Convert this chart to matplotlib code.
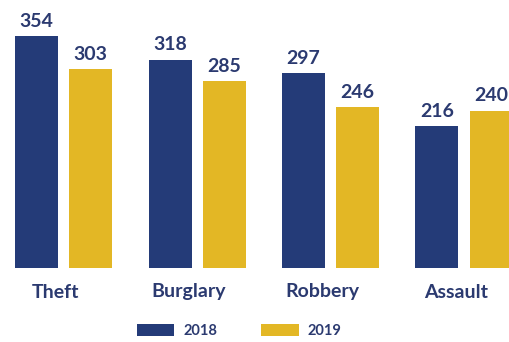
import matplotlib
matplotlib.use("Agg")
import matplotlib.pyplot as plt
import numpy as np

categories = ["Theft", "Burglary", "Robbery", "Assault"]
series_names = ["2018", "2019"]
values_2018 = [354, 318, 297, 216]
values_2019 = [303, 285, 246, 240]

navy = "#243B78"
gold = "#E3B725"
text_color = "#2B3A70"

plt.rcParams["font.family"] = ["Lato", "DejaVu Sans"]

W, H = 510, 342
fig = plt.figure(figsize=(W / 100, H / 100), dpi=100)
ax = fig.add_axes([0, 0, 1, 1])

group_px = 133.5
k = 232 / 354  # px per unit
base_px = 268
ax.set_xlim(-63.5 / group_px, (W - 63.5) / group_px)
ax.set_ylim(-(H - base_px) / k, base_px / k)

x = np.arange(len(categories))
off = 27 / group_px
width = 43 / group_px

b1 = ax.bar(x - off, values_2018, width, color=navy, label=series_names[0])
b2 = ax.bar(x + off, values_2019, width, color=gold, label=series_names[1])

for bars, vals in ((b1, values_2018), (b2, values_2019)):
    for rect, v in zip(bars, vals):
        ax.annotate(str(v), (rect.get_x() + rect.get_width() / 2, v),
                    xytext=(0, 4.5), textcoords="offset points",
                    ha="center", va="bottom", fontsize=14,
                    fontweight="bold", color=text_color)

for xi, c in zip(x, categories):
    ax.text(xi - 0.06, -(292 - base_px) / k, c, ha="center", va="center",
            fontsize=14, fontweight="bold", color=text_color)

ax.axis("off")

leg = fig.legend(loc="center", bbox_to_anchor=(239 / W, 1 - 331 / H),
                 ncol=2, frameon=False,
                 handlelength=2.6, handleheight=0.85, handletextpad=0.6,
                 columnspacing=3.0, labelcolor=text_color,
                 prop={"weight": "bold", "size": 10.5})

fig.savefig("out.png", dpi=100)
